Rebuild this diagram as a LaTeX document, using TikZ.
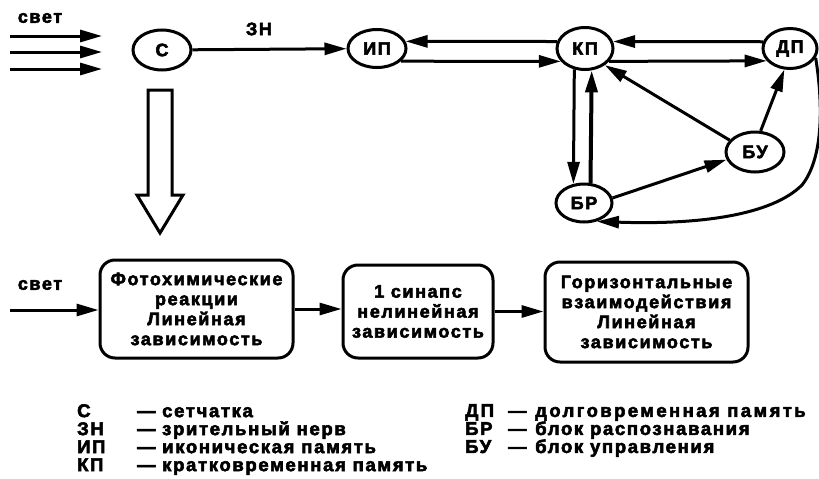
\documentclass[tikz,border=0pt]{standalone}
\usepackage{fontspec}
\setmainfont{Liberation Sans}[LetterSpace=9, BoldFeatures={FakeBold=3}]
\usetikzlibrary{arrows.meta,shapes.geometric}

\newcommand\legrow[4]{\makebox[#1][l]{#2}\makebox[#3][l]{—}#4}

\begin{document}
\begin{tikzpicture}[x=1pt,y=-1pt,
  every node/.style={font=\bfseries\fontsize{18}{20}\selectfont},
  blk/.style={ellipse, draw, line width=3pt, inner sep=0pt},
  box/.style={draw, rounded corners=15pt, line width=3pt, align=center, inner sep=0pt},
  arr/.style={line width=3pt, -{Triangle[length=22pt,width=12pt]}},
  legend/.style={anchor=north west, inner sep=0pt, align=left,
                 font=\bfseries\fontsize{18.5}{18}\selectfont},
]
\useasboundingbox (0,0) rectangle (819,479);

% --- upper scheme: memory blocks ---
\node[blk, minimum width=58pt, minimum height=40pt] (c)  at (162,50)  {С};
\node[blk, minimum width=58pt, minimum height=38pt] (ip) at (377,48.5) {ИП};
\node[blk, minimum width=56pt, minimum height=42pt] (kp) at (585,48.5) {КП};
\node[blk, minimum width=54pt, minimum height=40pt] (dp) at (790,48.5) {ДП};
\node[blk, minimum width=58pt, minimum height=40pt] (bu) at (755,152) {БУ};
\node[blk, minimum width=56pt, minimum height=38pt] (br) at (584,203) {БР};

% incoming light
\node[inner sep=0pt] (svet1) at (40,18) {свет};
\coordinate (l1a) at (10,36);  \coordinate (l1b) at (102,36);
\coordinate (l2a) at (10,52);  \coordinate (l2b) at (102,52);
\coordinate (l3a) at (10,69);  \coordinate (l3b) at (102,69);
\draw[arr] (l1a) -- (l1b);
\draw[arr] (l2a) -- (l2b);
\draw[arr] (l3a) -- (l3b);

% optic nerve
\node[inner sep=0pt] (zn) at (259,29) {ЗН};
\draw[arr] (c) -- (ip);

% links between the blocks
\draw[arr] (kp.166) -- (ip.14);
\draw[arr] (ip.-28) -- (kp.208);
\draw[arr] (dp.166) -- (kp.14);
\draw[arr] (kp.-28) -- (dp.208);
\draw[arr] (kp.243) -- (br.119.5);
\draw[arr, line width=4pt] (br.72.1) -- (kp.-73.7);
\draw[arr] (bu.155) -- (kp.-40);
\draw[arr] (bu.75) -- (dp.-105);
\draw[arr] (br.10) -- (bu.195);
\draw[arr] (dp.-20) .. controls (824,110) and (822,160) .. (802,185)
                    .. controls (772,215) and (700,225) .. (br.-55);

% hollow arrow down from the retina
\draw[line width=3pt, line join=miter]
  (148,90) -- (172,90) -- (172,195) -- (183,195) -- (160,233)
  -- (137,195) -- (148,195) -- cycle;

% --- lower scheme: processing stages ---
\node[box, minimum width=193pt, minimum height=98pt]  (b1) at (196.5,309) {Фотохимические\\реакции\\Линейная\\зависимость};
\node[box, minimum width=150pt, minimum height=93pt]  (b2) at (418,311.5) {1 синапс\\нелинейная\\зависимость};
\node[box, minimum width=203pt, minimum height=100pt] (b3) at (646.5,312) {Горизонтальные\\взаимодействия\\Линейная\\зависимость};

\node[inner sep=0pt] (svet2) at (40,285) {свет};
\coordinate (l4a) at (10,310);
\draw[arr] (l4a) -- (l4a -| b1.west);
\draw[arr] (b1.east) -- (b1.east -| b2.west);
\draw[arr] (b2.east) -- (b2.east -| b3.west);

% --- legend ---
\node[legend] (legl) at (77,404) {%
  \legrow{60pt}{С}{25pt}{сетчатка}\\
  \legrow{60pt}{ЗН}{25pt}{зрительный нерв}\\
  \legrow{60pt}{ИП}{25pt}{иконическая память}\\
  \legrow{60pt}{КП}{25pt}{кратковременная память}};
\node[legend] (legr) at (465,404) {\addfontfeature{LetterSpace=13}%
  \legrow{43pt}{ДП}{27pt}{долговременная память}\\
  \legrow{43pt}{БР}{27pt}{блок распознавания}\\
  \legrow{43pt}{БУ}{27pt}{блок управления}};
\end{tikzpicture}
\end{document}
